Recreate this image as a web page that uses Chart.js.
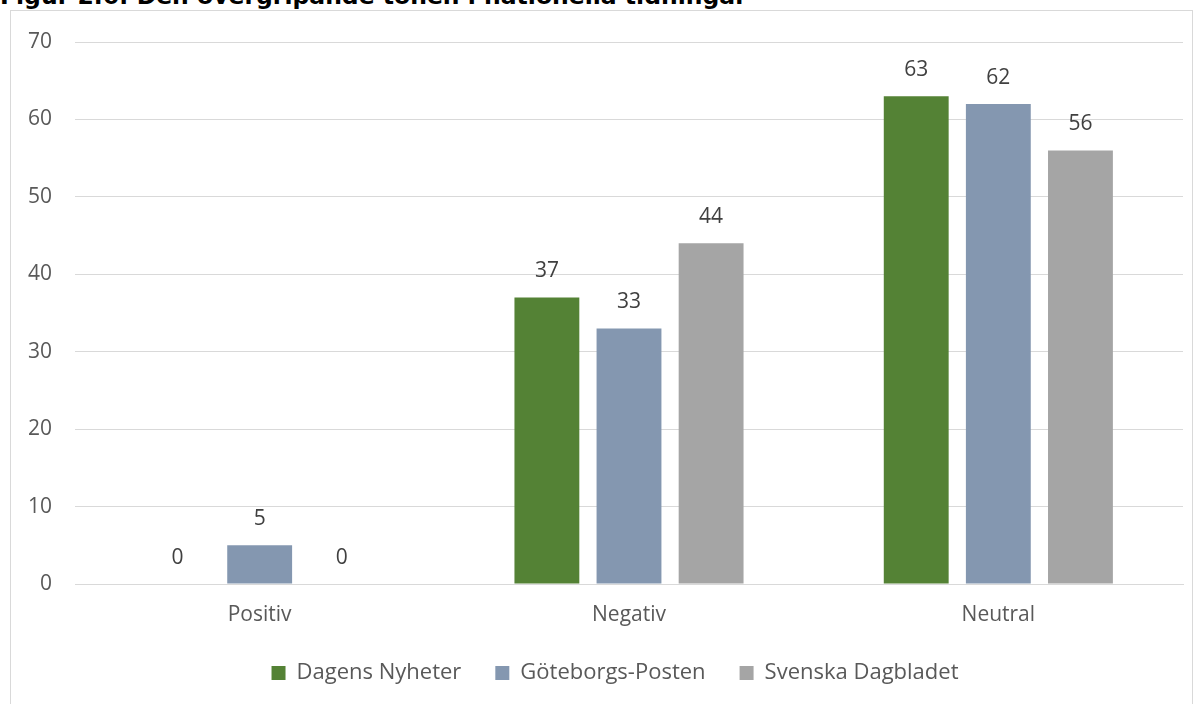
<!DOCTYPE html>
<html>
<head>
<meta charset="utf-8">
<script src="https://cdn.jsdelivr.net/npm/chart.js@4"></script>
<style>
    body { margin: 0; background: #fff; overflow: hidden; }
    #title {
        position: absolute; left: 0; top: -17px;
        font-family: "DejaVu Sans", Verdana, sans-serif; font-weight: 700;
        font-size: 23.5px; line-height: 26px; color: #000; white-space: nowrap;
    }
    #frame {
        position: absolute; left: 10px; top: 10px; width: 1181px; height: 720px;
        border: 1px solid #d9d9d9; background: #fff;
    }
    #wrap { position: absolute; left: 11px; top: 11px; width: 1208px; height: 693px; }
</style>
</head>
<body>
<div id="frame"></div>
<div id="title">Figur 2.6: Den övergripande tonen i nationella tidningar</div>
<div id="wrap"><canvas id="myChart"></canvas></div>
<script>
var categories = ["Positiv", "Negativ", "Neutral"];
var dagensNyheter = [0, 37, 63];
var goteborgsPosten = [5, 33, 62];
var svenskaDagbladet = [0, 44, 56];
var yTicks = [0, 10, 20, 30, 40, 50, 60, 70];

// skriver värdet ovanför varje stapel
var valueLabels = {
    id: 'valueLabels',
    afterDatasetsDraw: function (chart) {
        var ctx = chart.ctx;
        ctx.save();
        ctx.font = '21px "Open Sans", sans-serif';
        ctx.fillStyle = '#404040';
        ctx.textAlign = 'center';
        ctx.textBaseline = 'middle';
        chart.data.datasets.forEach(function (ds, i) {
            chart.getDatasetMeta(i).data.forEach(function (bar, j) {
                ctx.fillText(ds.data[j], bar.x, bar.y - 26);
            });
        });
        ctx.restore();
    }
};

// flyttar legenden lite åt höger, som i originalet
var legendShift = {
    id: 'legendShift',
    afterLayout: function (chart) {
        if (chart.legend) {
            chart.legend.left += 18;
            chart.legend.right += 18;
        }
    }
};

document.addEventListener("DOMContentLoaded", function () {
    var ctx = document.getElementById('myChart').getContext('2d');
    new Chart(ctx, {
        type: 'bar',
        data: {
            labels: categories,
            datasets: [{
                label: 'Dagens Nyheter',
                data: dagensNyheter,
                backgroundColor: '#548235'
            },
            {
                label: 'Göteborgs-Posten',
                data: goteborgsPosten,
                backgroundColor: '#8497b0'
            },
            {
                label: 'Svenska Dagbladet',
                data: svenskaDagbladet,
                backgroundColor: '#a5a5a5'
            }]
        },
        plugins: [valueLabels, legendShift],
        options: {
            responsive: true,
            maintainAspectRatio: false,
            animation: false,
            categoryPercentage: 0.667,
            barPercentage: 0.79,
            layout: { padding: { top: 31, right: 36, bottom: 10, left: 0 } },
            plugins: {
                tooltip: { enabled: false },
                legend: {
                    position: 'bottom',
                    labels: {
                        boxWidth: 14,
                        boxHeight: 14,
                        padding: 34,
                        color: '#595959',
                        font: { family: '"Open Sans", sans-serif', size: 22 }
                    }
                }
            },
            scales: {
                x: {
                    grid: { display: false },
                    border: { color: '#d9d9d9', width: 1 },
                    ticks: {
                        color: '#595959',
                        padding: 10,
                        font: { family: '"Open Sans", sans-serif', size: 21 }
                    },
                    afterFit: function (scale) { scale.height = 44; }
                },
                y: {
                    min: 0,
                    max: 70,
                    afterBuildTicks: function (scale) {
                        scale.ticks = yTicks.map(function (v) { return { value: v }; });
                    },
                    grid: { color: '#d9d9d9', drawTicks: false },
                    border: { display: false },
                    ticks: {
                        color: '#595959',
                        padding: 23,
                        font: { family: '"Open Sans", sans-serif', size: 21 }
                    },
                    afterFit: function (scale) {
                        scale.width = 64;
                        scale.paddingTop = 12;
                        scale.paddingBottom = 12;
                    }
                }
            }
        }
    });
});
</script>
</body>
</html>
